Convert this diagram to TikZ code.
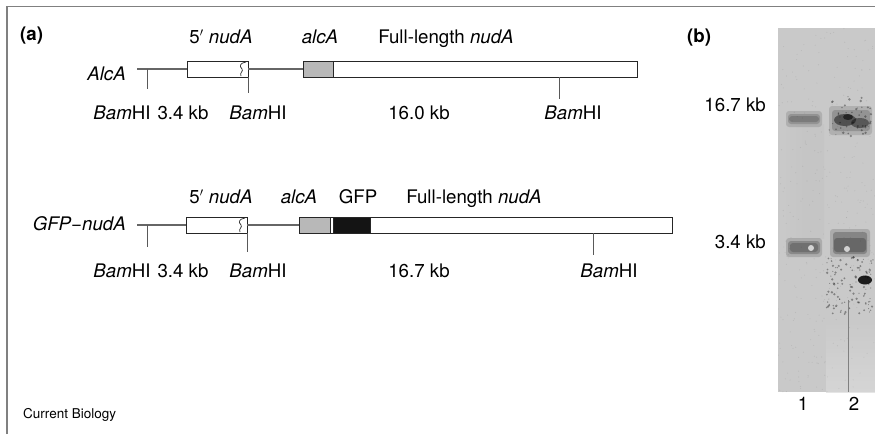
\documentclass[tikz,border=0pt]{standalone}
\usepackage{fontspec}
\setmainfont{TeX Gyre Heros}
\begin{document}
\begin{tikzpicture}[x={(1pt,0)}, y={(0,-1pt)},
  lab/.style={font=\fontsize{18.7}{22}\selectfont, inner sep=0pt, anchor=base},
  dna/.style={draw=black!60, line width=1.1pt},
  cut/.style={draw=black!65, line width=0.9pt},
  seg/.style={draw=black!85, line width=0.9pt, inner sep=0pt, outer sep=0pt,
              anchor=north west, minimum height=16pt},
  frame/.style={draw=black!50, line width=1.6pt},
  band/.style={fill=black, opacity=#1, rounded corners=3pt}]
\useasboundingbox (0,0) rectangle (875,434);
\fill[white] (0,0) rectangle (875,434);
\draw[frame] (7,434) -- (7,6.5) -- (875,6.5);

% ---------- (a) construct maps ----------
\node[lab, anchor=base west, font=\fontsize{18.7}{22}\selectfont\bfseries] (pa) at (20,40) {(a)};

% AlcA strain
\node[lab, anchor=base east] (nameA) at (126,80) {\textit{AlcA}};
\coordinate (a0) at (137,69);
\node[seg, minimum width=61pt] (a5) at (187,61) {};
\node[seg, minimum width=30pt, fill=black!28] (aalc) at (303,61) {};
\node[seg, minimum width=304pt] (afull) at (333,61) {};
\draw[dna] (a0) -- (a5.west);
\draw[dna] (a5.east) -- (aalc.west);
\draw[black!80, line width=0.7pt] (246,62) .. controls (240,63) and (239,66) .. (242,69)
      .. controls (244,71) and (239,73) .. (241,76);
\coordinate (at1) at (147,69);
\coordinate (at2) at (248,77);
\coordinate (at3) at (559,77);
\draw[cut] (at1) -- ++(0,20);
\draw[cut] (at2) -- ++(0,16);
\draw[cut] (at3) -- ++(0,22);
\node[lab] (a5l) at (221,43) {5$'$ \textit{nudA}};
\node[lab] (aalcl) at (320,43) {\textit{alcA}};
\node[lab] (afulll) at (446,43) {Full-length \textit{nudA}};
\node[lab] (ab1) at (122,119) {\textit{Bam}HI};
\node[lab] (akb1) at (183,119) {3.4 kb};
\node[lab] (ab2) at (258,119) {\textit{Bam}HI};
\node[lab] (akb2) at (419,119) {16.0 kb};
\node[lab] (ab3) at (573,119) {\textit{Bam}HI};

% GFP-nudA strain
\node[lab, anchor=base east] (nameG) at (126,230) {\textit{GFP−nudA}};
\coordinate (g0) at (137,225);
\node[seg, minimum width=61pt] (g5) at (186,217) {};
\node[seg, minimum width=31pt, fill=black!28] (galc) at (299,217) {};
\node[seg, minimum width=3pt] (gsp) at (330,217) {};
\node[seg, minimum width=37pt, fill=black!92] (ggfp) at (333,217) {};
\node[seg, minimum width=302pt] (gfull) at (370,217) {};
\draw[dna] (g0) -- (g5.west);
\draw[dna] (g5.east) -- (galc.west);
\draw[black!80, line width=0.7pt] (245,218) .. controls (239,219) and (238,222) .. (241,225)
      .. controls (243,227) and (238,229) .. (240,232);
\coordinate (gt1) at (147,225);
\coordinate (gt2) at (247,233);
\coordinate (gt3) at (593,233);
\draw[cut] (gt1) -- ++(0,22);
\draw[cut] (gt2) -- ++(0,19);
\draw[cut] (gt3) -- ++(0,22);
\node[lab] (g5l) at (221,203) {5$'$ \textit{nudA}};
\node[lab] (galcl) at (299,203) {\textit{alcA}};
\node[lab] (ggfpl) at (358,203) {GFP};
\node[lab] (gfulll) at (474,203) {Full-length \textit{nudA}};
\node[lab] (gb1) at (122,277) {\textit{Bam}HI};
\node[lab] (gkb1) at (183,277) {3.4 kb};
\node[lab] (gb2) at (258,277) {\textit{Bam}HI};
\node[lab] (gkb2) at (419,277) {16.7 kb};
\node[lab] (gb3) at (609,277) {\textit{Bam}HI};

% ---------- (b) Southern blot ----------
\node[lab, anchor=base west, font=\fontsize{18.7}{22}\selectfont\bfseries] (pb) at (687,42) {(b)};
\node[lab, anchor=base east] (m1) at (766,111) {16.7 kb};
\node[lab, anchor=base east] (m2) at (766,248) {3.4 kb};

\begin{scope}
\clip (778,28) rectangle (875,392);
\fill[black!21] (778,28) rectangle (875,392);
\shade[top color=black!21, bottom color=black!14, opacity=0.7] (826,320) rectangle (875,392);
\shade[left color=black!21, right color=black!25, middle color=black!25, opacity=0.35] (784,124) rectangle (824,238);
% fine grain of the membrane
\pgfmathsetseed{5}
\foreach \k in {1,...,320} {
  \pgfmathsetmacro{\px}{778+97*rnd}
  \pgfmathsetmacro{\py}{28+364*rnd}
  \fill[black, opacity=0.07] (\px,\py) circle (0.6);
}
% lane 1 bands
\fill[band=0.12] (786,111) rectangle (822,127);
\fill[band=0.16] (788,114) rectangle (820,124);
\fill[band=0.16] (789,116) rectangle (819,122);
\fill[band=0.14] (786,238) rectangle (822,257);
\fill[band=0.2] (788,241) rectangle (820,254);
\fill[band=0.18] (790,243) rectangle (818,252);
\fill[white, opacity=0.7] (811,248) circle (3);
% lane 2 bands
\fill[band=0.12] (829,106) rectangle (872,135);
\fill[band=0.16] (832,110) rectangle (870,131);
\fill[black, opacity=0.45] (845,120) ellipse (11 and 6);
\fill[black, opacity=0.4] (860,123) ellipse (9 and 5);
\fill[black, opacity=0.55] (848,117) ellipse (5 and 3);
\fill[band=0.15] (830,229) rectangle (870,257);
\fill[band=0.22] (833,232) rectangle (867,254);
\fill[band=0.22] (834,238) rectangle (866,252);
\fill[white, opacity=0.7] (847,249) circle (3);
\fill[black, opacity=0.85] (865,280) ellipse (7 and 4.5);
% speckles in lane 2
\pgfmathsetseed{17}
\foreach \k in {1,...,110} {
  \pgfmathsetmacro{\px}{826+47*rnd}
  \pgfmathsetmacro{\py}{256+58*rnd}
  \pgfmathsetmacro{\pr}{0.5+0.8*rnd}
  \fill[black, opacity=0.35] (\px,\py) circle (\pr);
}
\foreach \k in {1,...,45} {
  \pgfmathsetmacro{\px}{828+45*rnd}
  \pgfmathsetmacro{\py}{96+44*rnd}
  \pgfmathsetmacro{\pr}{0.5+0.9*rnd}
  \fill[black, opacity=0.35] (\px,\py) circle (\pr);
}
\draw[black!50, line width=0.7pt] (848,300) -- (848,392);
\end{scope}
\node[lab] (l1) at (803,410) {1};
\node[lab] (l2) at (854,410) {2};

\node[inner sep=0pt, anchor=base west, font=\fontsize{13.5}{15}\selectfont] (cb) at (23,418) {Current Biology};
\end{tikzpicture}
\end{document}
